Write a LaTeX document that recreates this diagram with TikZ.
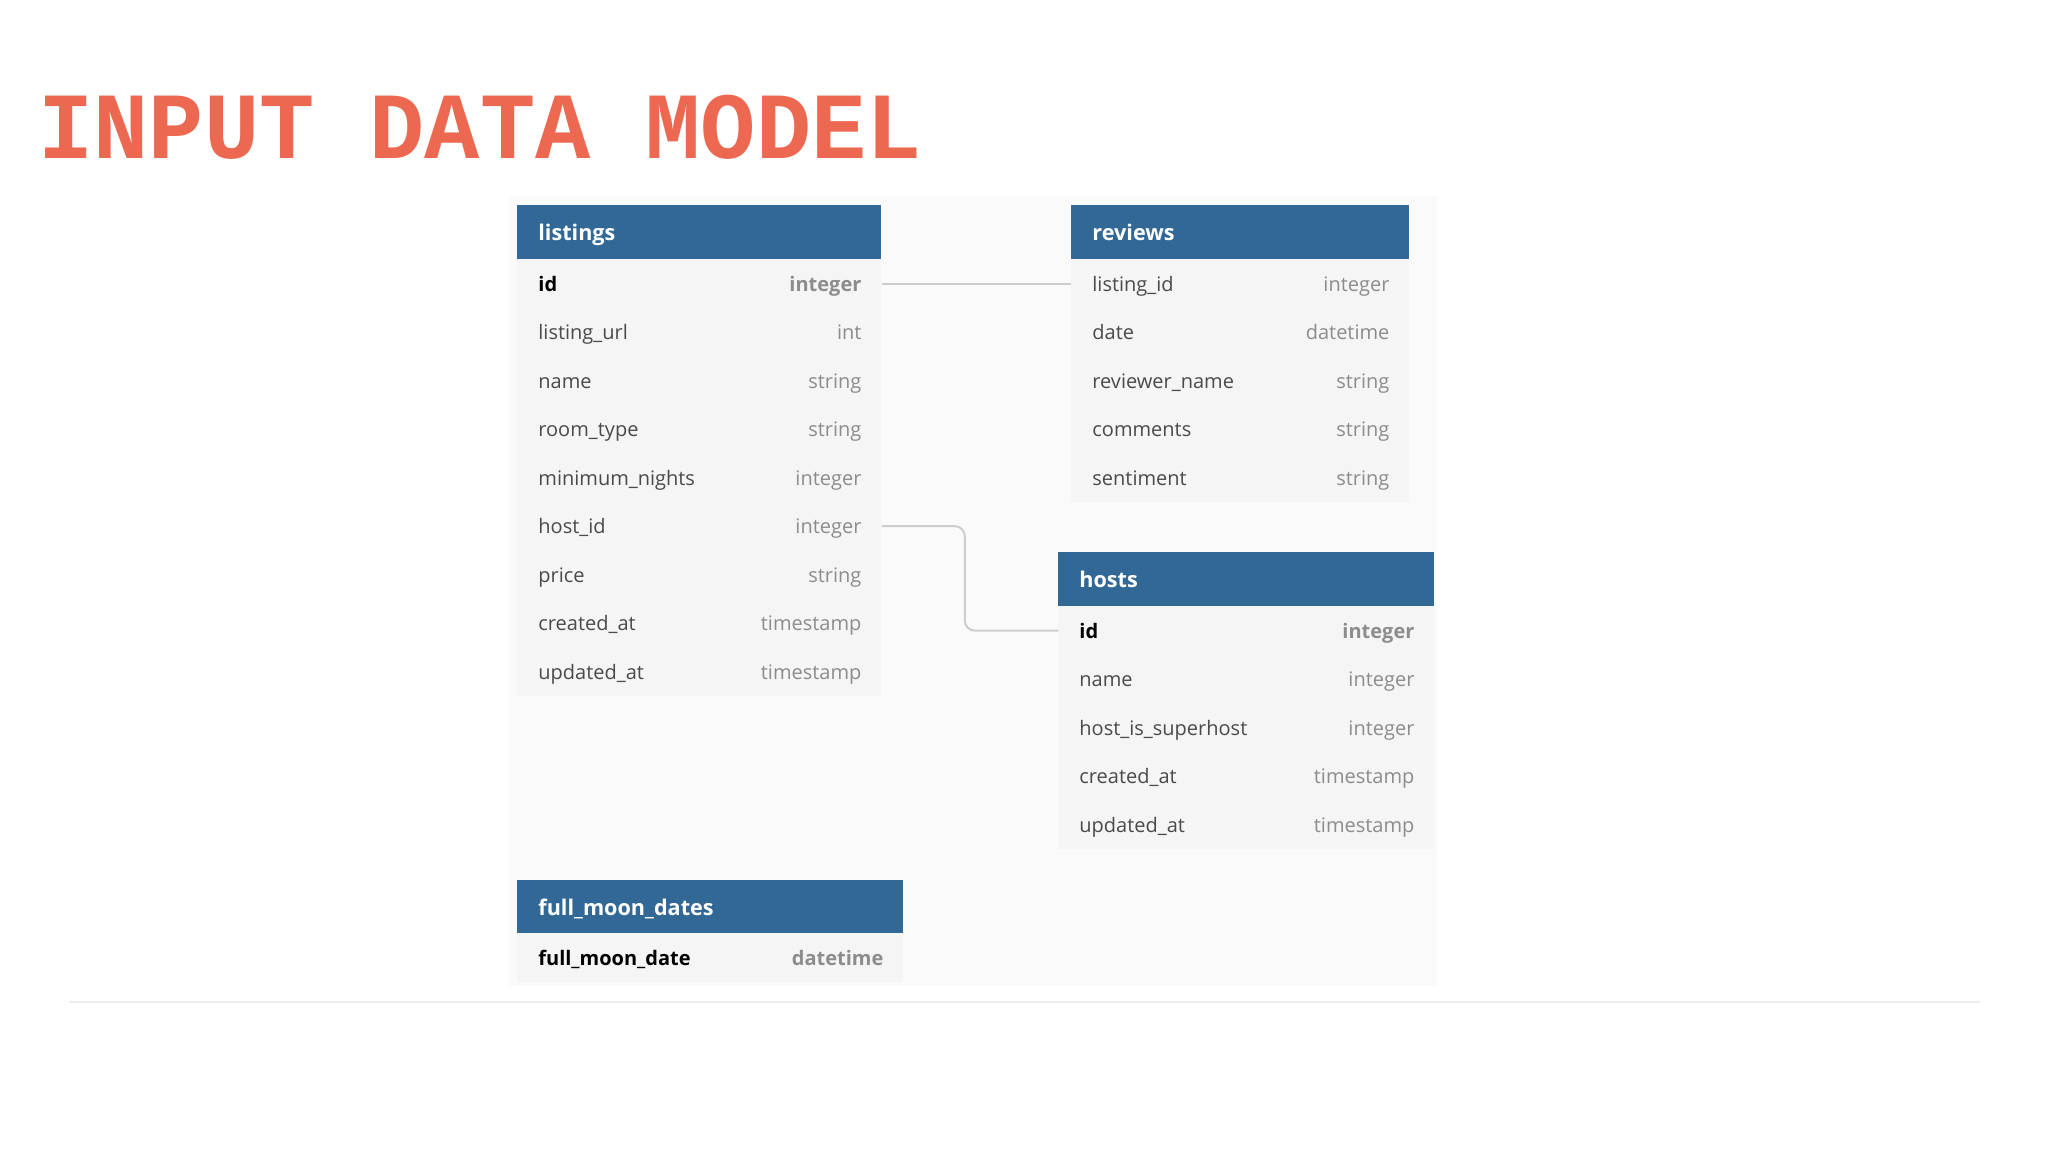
\documentclass[tikz,border=0pt]{standalone}
\usepackage{fontspec}
\setmainfont{Open Sans}
\newfontfamily\titlefont{Liberation Mono}
\usepackage{graphicx}
\usetikzlibrary{positioning}

\definecolor{titleorange}{RGB}{236,104,80}
\definecolor{headblue}{RGB}{49,104,149}
\definecolor{canvasgray}{RGB}{250,250,250}
\definecolor{rowbg}{RGB}{245,245,245}
\definecolor{nametxt}{RGB}{74,74,74}
\definecolor{typetxt}{RGB}{140,140,140}
\definecolor{linkgray}{RGB}{205,205,205}
\definecolor{rulegray}{RGB}{236,236,236}

\tikzset{
  tblhead/.style={fill=headblue, anchor=north west, minimum height=27pt, inner sep=0pt},
  tblrow/.style={fill=rowbg, anchor=north west, minimum height=24.25pt, inner sep=0pt},
  headtxt/.style={text=white, font=\fontsize{10.8}{12}\selectfont\bfseries, inner sep=0pt, text height=9.3pt, text depth=1.2pt},
  fname/.style={text=nametxt, font=\fontsize{10}{12}\selectfont, inner sep=0pt, text height=8.8pt, text depth=1.2pt},
  ftype/.style={fname, text=typetxt},
  fkey/.style={fname, text=black, font=\fontsize{10}{12}\selectfont\bfseries},
  fkeytype/.style={fkey, text=typetxt},
  link/.style={draw=linkgray, line width=1pt, rounded corners=5pt},
}

\begin{document}
\begin{tikzpicture}[x=0.5pt, y=-0.5pt]
  \useasboundingbox[fill=white] (0,0) rectangle (2048,1152);

  % Title
  \node[anchor=base west, inner sep=0pt, text=titleorange] (title) at (38,158)
    {\scalebox{1}[1.03]{\titlefont\fontsize{46}{46}\selectfont\bfseries INPUT DATA MODEL}};

  % Canvas
  \fill[canvasgray] (509,196) rectangle (1437,986);

  % Listings
  \node[tblhead, minimum width=182pt] (lst) at (517,205) {};
  \node[headtxt, right=10.5pt of lst.west] (lsttxt) {listings};
  \node[tblrow, minimum width=182pt] (l1) at (517,259) {};
  \node[fkey, right=10.5pt of l1.west] {id};
  \node[fkeytype, left=10pt of l1.east] {integer};
  \foreach \n/\t [count=\i from 2] in {listing\_url/int, name/string, room\_type/string,
      minimum\_nights/integer, host\_id/integer, price/string, created\_at/timestamp,
      updated\_at/timestamp} {
    \node[tblrow, minimum width=182pt] (l\i) at (517,{259+48.5*(\i-1)}) {};
    \node[fname, right=10.5pt of l\i.west] {\n};
    \node[ftype, left=10pt of l\i.east] {\t};
  }

  % Reviews
  \node[tblhead, minimum width=169pt] (rev) at (1071,205) {};
  \node[headtxt, right=10.5pt of rev.west] (revtxt) {reviews};
  \foreach \n/\t [count=\i] in {listing\_id/integer, date/datetime, reviewer\_name/string,
      comments/string, sentiment/string} {
    \node[tblrow, minimum width=169pt] (r\i) at (1071,{259+48.5*(\i-1)}) {};
    \node[fname, right=10.5pt of r\i.west] {\n};
    \node[ftype, left=10pt of r\i.east] {\t};
  }

  % Hosts
  \node[tblhead, minimum width=188pt] (hst) at (1058,552) {};
  \node[headtxt, right=10.5pt of hst.west] (hsttxt) {hosts};
  \node[tblrow, minimum width=188pt] (h1) at (1058,606) {};
  \node[fkey, right=10.5pt of h1.west] {id};
  \node[fkeytype, left=10pt of h1.east] {integer};
  \foreach \n/\t [count=\i from 2] in {name/integer, host\_is\_superhost/integer,
      created\_at/timestamp, updated\_at/timestamp} {
    \node[tblrow, minimum width=188pt] (h\i) at (1058,{606+48.5*(\i-1)}) {};
    \node[fname, right=10.5pt of h\i.west] {\n};
    \node[ftype, left=10pt of h\i.east] {\t};
  }

  % Full moon dates
  \node[tblhead, minimum width=193pt] (fmd) at (517,880) {};
  \node[headtxt, right=10.5pt of fmd.west] (fmdtxt) {full\_moon\_dates};
  \node[tblrow, minimum width=193pt] (f1) at (517,933) {};
  \node[fkey, right=10.5pt of f1.west] {full\_moon\_date};
  \node[fkeytype, left=10pt of f1.east] {datetime};

  % Relations
  \draw[link] (l1.east) -- (r1.west);
  \draw[link] (l6.east) -- ++(83,0) |- (h1.west);

  % Bottom rule
  \draw[rulegray, line width=1pt] (69,1002) -- (1980,1002);
\end{tikzpicture}
\end{document}
